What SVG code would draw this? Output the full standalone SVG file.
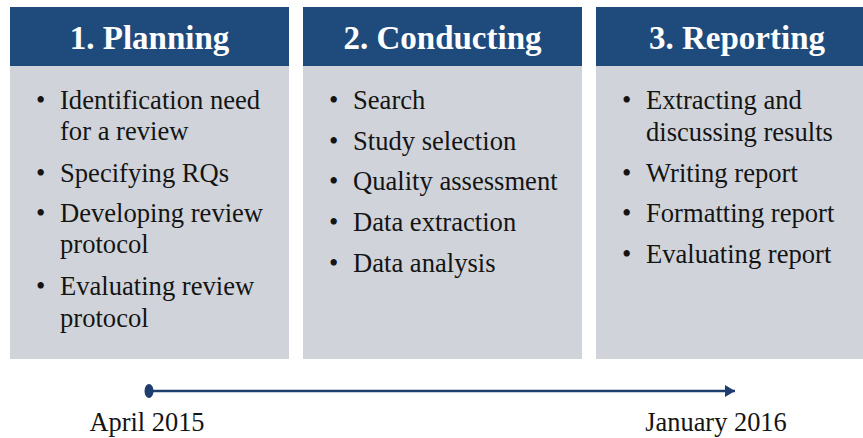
<svg xmlns="http://www.w3.org/2000/svg" width="863" height="438" viewBox="0 0 863 438">
<style>
.hdr{fill:#1f4a7c}
.body{fill:#d0d4da}
.ht{font-family:"Liberation Serif","Times New Roman",serif;font-size:33px;font-weight:bold;fill:#ffffff;text-anchor:middle}
.bt{font-family:"Liberation Serif","Times New Roman",serif;font-size:26.6px;fill:#141414}
.dt{font-family:"Liberation Serif","Times New Roman",serif;font-size:26.4px;fill:#141414;text-anchor:middle}
.tl{stroke:#1f3e6e;stroke-width:2.5;fill:none}
</style>
<defs>
<marker id="ah" viewBox="0 0 10 12" refX="10" refY="6" markerWidth="10" markerHeight="12" markerUnits="userSpaceOnUse" orient="auto">
<path d="M0,0 L10,6 L0,12 Z" fill="#1f3e6e"/>
</marker>
</defs>
<rect width="863" height="438" fill="#ffffff"/>
<g id="planning">
<rect class="body" x="10" y="66" width="279" height="293"/>
<rect class="hdr" x="10" y="7" width="279" height="59"/>
<text class="ht" x="149.5" y="49">1. Planning</text>
<text class="bt" x="36" y="109">•</text><text class="bt" x="60" y="109">Identification need</text>
<text class="bt" x="60" y="140">for a review</text>
<text class="bt" x="36" y="182">•</text><text class="bt" x="60" y="182">Specifying RQs</text>
<text class="bt" x="36" y="222">•</text><text class="bt" x="60" y="222">Developing review</text>
<text class="bt" x="60" y="253">protocol</text>
<text class="bt" x="36" y="295">•</text><text class="bt" x="60" y="295">Evaluating review</text>
<text class="bt" x="60" y="327">protocol</text>
</g>
<g id="conducting">
<rect class="body" x="303" y="66" width="279" height="293"/>
<rect class="hdr" x="303" y="7" width="279" height="59"/>
<text class="ht" x="442.5" y="49">2. Conducting</text>
<text class="bt" x="329" y="109">•</text><text class="bt" x="353" y="109">Search</text>
<text class="bt" x="329" y="150">•</text><text class="bt" x="353" y="150">Study selection</text>
<text class="bt" x="329" y="190">•</text><text class="bt" x="353" y="190">Quality assessment</text>
<text class="bt" x="329" y="231">•</text><text class="bt" x="353" y="231">Data extraction</text>
<text class="bt" x="329" y="272">•</text><text class="bt" x="353" y="272">Data analysis</text>
</g>
<g id="reporting">
<rect class="body" x="596" y="66" width="279" height="293"/>
<rect class="hdr" x="596" y="7" width="279" height="59"/>
<text class="ht" x="737" y="49">3. Reporting</text>
<text class="bt" x="622" y="109">•</text><text class="bt" x="646" y="109">Extracting and</text>
<text class="bt" x="646" y="141">discussing results</text>
<text class="bt" x="622" y="182">•</text><text class="bt" x="646" y="182">Writing report</text>
<text class="bt" x="622" y="222">•</text><text class="bt" x="646" y="222">Formatting report</text>
<text class="bt" x="622" y="263">•</text><text class="bt" x="646" y="263">Evaluating report</text>
</g>
<g id="connectors">
<ellipse cx="149" cy="391" rx="4.5" ry="7" fill="#1f3e6e"/>
<line class="tl" x1="150" y1="391" x2="735" y2="391" marker-end="url(#ah)"/>
</g>
<g id="dates">
<text class="dt" x="147" y="431">April 2015</text>
<text class="dt" x="716" y="431">January 2016</text>
</g>
</svg>
